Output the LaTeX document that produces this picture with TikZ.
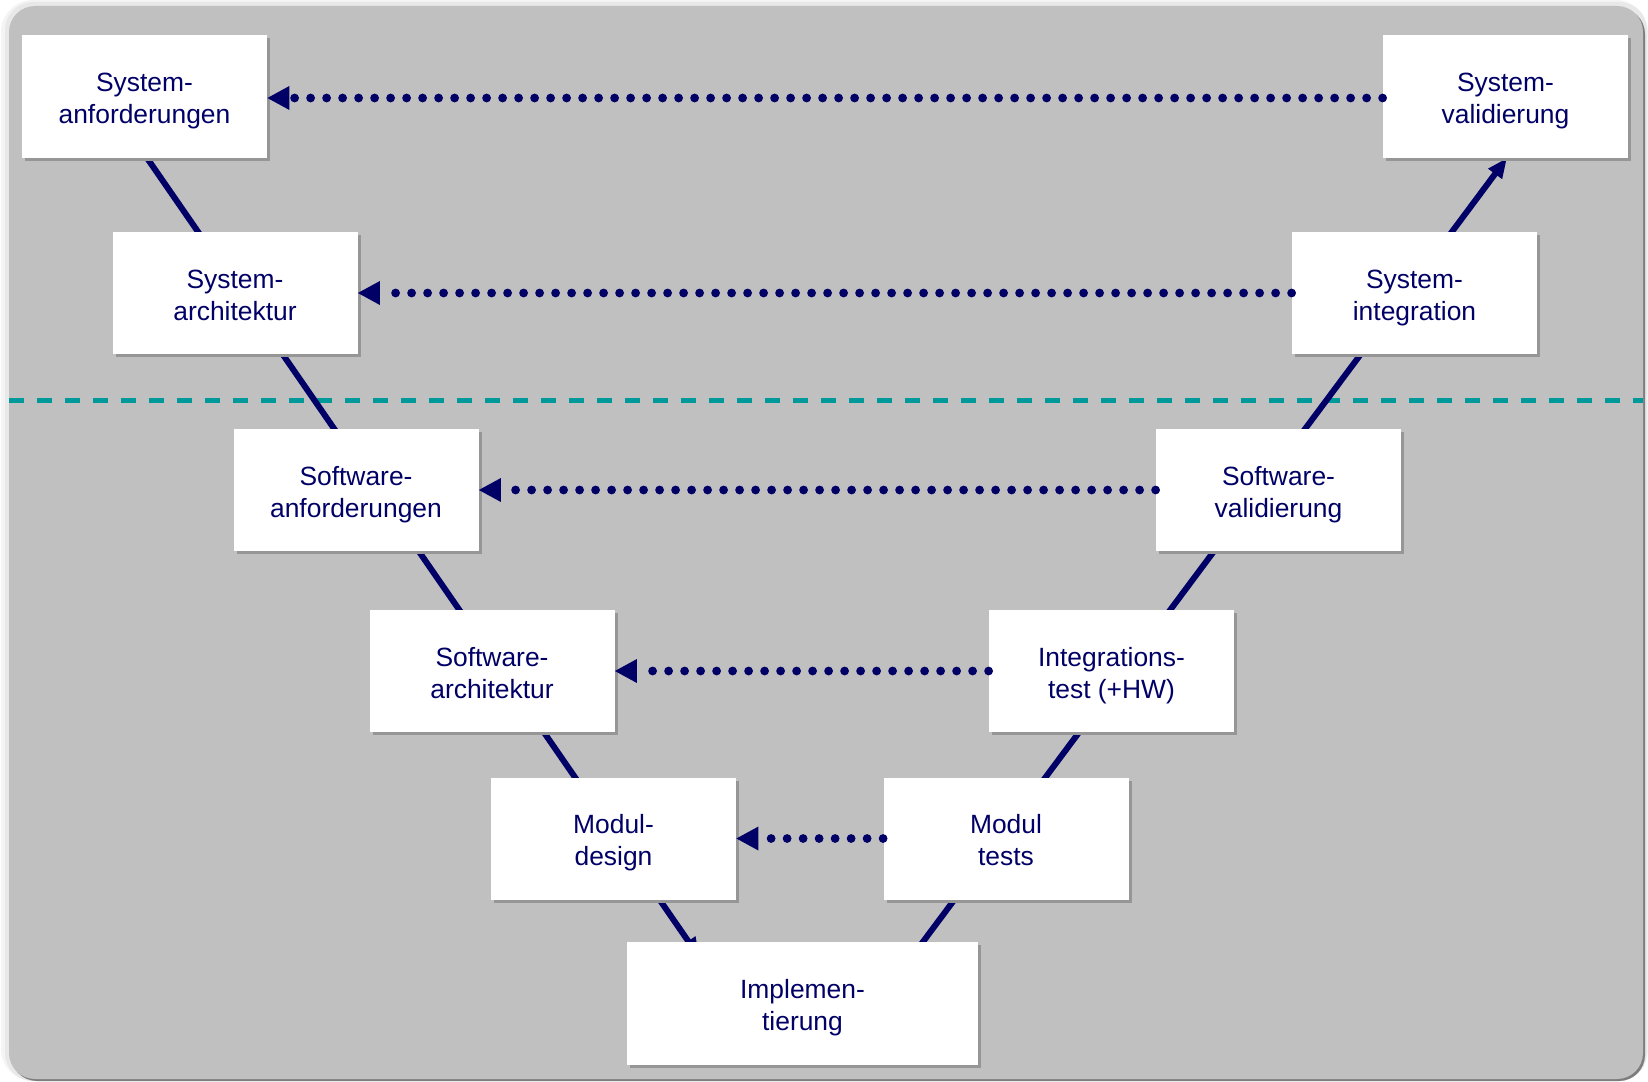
\documentclass[tikz,border=0pt]{standalone}
\usepackage{fontspec}
\setmainfont{Liberation Sans}
\usetikzlibrary{arrows.meta,shadows,calc}

\definecolor{vnavy}{RGB}{0,0,102}
\definecolor{panel}{RGB}{192,192,192}
\definecolor{panelshadow}{RGB}{125,125,125}
\definecolor{glowA}{RGB}{244,244,244}
\definecolor{glowB}{RGB}{232,232,232}
\definecolor{boxshadow}{RGB}{150,150,150}
\definecolor{levelline}{RGB}{0,153,153}

\pgfdeclarelayer{back}
\pgfsetlayers{back,main}

\newcommand\twolines[2]{\begin{tabular}[b]{@{}c@{}}#1\\#2\end{tabular}}

\tikzset{
  phase/.style={fill=white, minimum width=122.5pt, minimum height=61pt,
    inner sep=0pt, text=vnavy, text depth=-2pt,
    font=\fontsize{13.2pt}{16pt}\selectfont,
    drop shadow={shadow xshift=1.5pt, shadow yshift=-1.5pt,
      fill=boxshadow, opacity=1}},
  vline/.style={draw=vnavy, line width=3pt},
  vtip/.style={-{Triangle[length=10pt,width=8pt]}},
  trace/.style={draw=vnavy, line width=4.4pt, line cap=round,
    dash pattern=on 0pt off 8pt,
    -{Triangle[length=11pt,width=12pt,line width=0pt]}},
}

\begin{document}
\begin{tikzpicture}[x=0.5pt,y=-0.5pt]
\useasboundingbox (0,0) rectangle (1648,1081);

% development side (left branch of the V)
\node[phase] (SA)  at (144.5,96.5) {\twolines{System-}{anforderungen}};
\node[phase] (SyA) at (235,293)    {\twolines{System-}{architektur}};
\node[phase] (SwA) at (356,490)    {\twolines{Software-}{anforderungen}};
\node[phase] (SwR) at (492,671)    {\twolines{Software-}{architektur}};
\node[phase] (MD)  at (613.5,838.5){\twolines{Modul-}{design}};
% bottom of the V
\node[phase, minimum width=175.5pt, minimum height=61.5pt]
             (IM)  at (802.5,1003.5){\twolines{Implemen-}{tierung}};
% test side (right branch of the V)
\node[phase] (MT)  at (1006,838.5) {\twolines{Modul}{tests}};
\node[phase] (IT)  at (1111.5,671) {\twolines{Integrations-}{test (+HW)}};
\node[phase] (SwV) at (1278.5,490) {\twolines{Software-}{validierung}};
\node[phase] (SI)  at (1414.5,293) {\twolines{System-}{integration}};
\node[phase] (SV)  at (1505.5,96.5){\twolines{System-}{validierung}};

\begin{pgfonlayer}{back}
  % panel with soft outer edge and shadow
  \fill[glowA, rounded corners=16pt] (1,0) rectangle (1648,1081);
  \fill[glowB, rounded corners=14pt] (5,2) rectangle (1647,1081);
  \fill[panelshadow, rounded corners=13pt] (11,8) rectangle (1645,1081);
  \fill[panel, rounded corners=13pt] (9,6) rectangle (1643,1079);
  % boundary between system level and software level
  \draw[levelline, line width=2.5pt, dash pattern=on 7.5pt off 6.5pt]
    (9,400) -- (1643,400);
  % the two branches of the V, running behind the boxes
  \draw[vline, vtip] ($(SA.south)+(-1,-5)$) -- ($(IM.north west)+(73,16)$);
  \draw[vline, vtip] ($(IM.center)+(74.5,0)$) -- ($(SV.south)+(1.5,0)$);
\end{pgfonlayer}

% verification links from each test phase back to its design phase
\draw[trace] ($(SV.west)+(0,1.5)$)  -- ($(SA.east)+(0,1.5)$);
\draw[trace] (SI.west)  -- (SyA.east);
\draw[trace] (SwV.west) -- (SwA.east);
\draw[trace] (IT.west)  -- (SwR.east);
\draw[trace] (MT.west)  -- (MD.east);
\end{tikzpicture}
\end{document}
